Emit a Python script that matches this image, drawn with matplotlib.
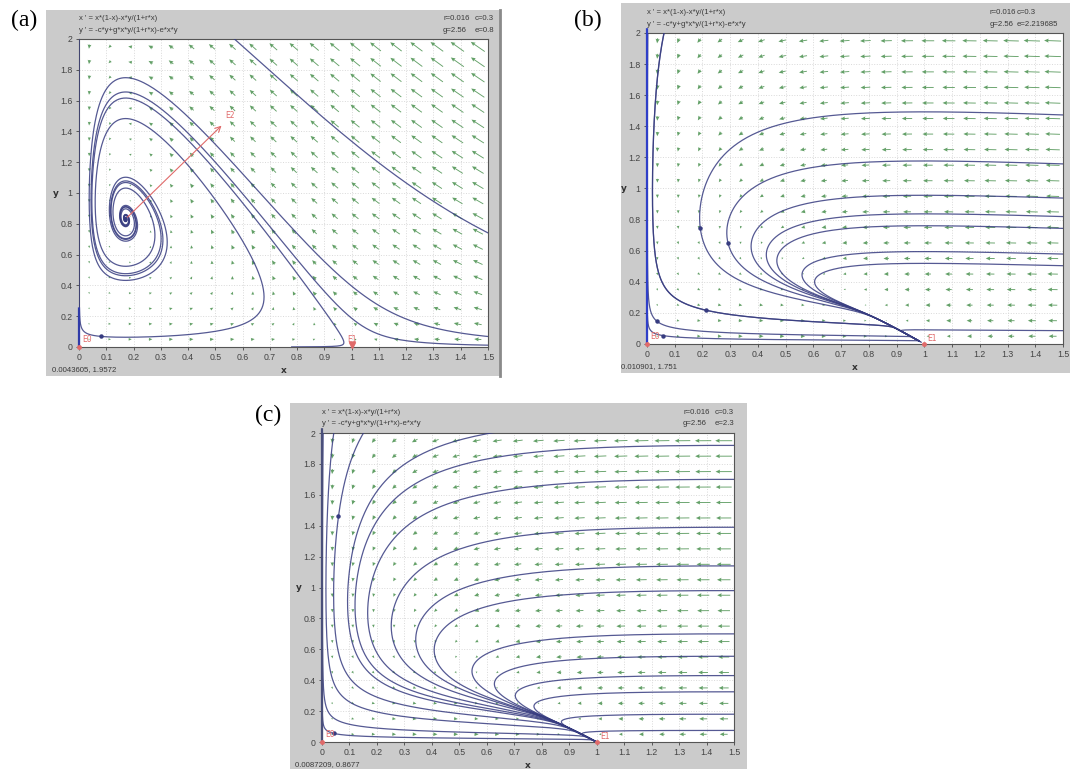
import numpy as np
import matplotlib
matplotlib.use("Agg")
import matplotlib.pyplot as plt

W, H = 1070, 769

# model parameters (shown in each panel header)
r = 0.016
c = 0.3
g = 2.56
e_values = [0.8, 2.219685, 2.3]
e_labels = ["e=0.8", "e=2.219685", "e=2.3"]
panel_tags = ["(a)", "(b)", "(c)"]
cursor_texts = ["0.0043605, 1.9572", "0.010901, 1.751", "0.0087209, 0.8677"]

# start points of the solution curves
# (both: 1 = solved forward and backward, 0 = forward only)
a_x0 = [0.0, 0.079, 1.49, 1.49, 1.49, 0.78]
a_y0 = [0.25, 0.069, 0.75, 0.07, 0.012, 0.0008]
a_both = [0, 1, 1, 1, 1, 0]
b_x0 = [0.0, 0.192, 0.292, 1.49, 1.49, 1.49, 1.49, 1.49, 1.49, 0.06, 0.214, 0.036, 0.058]
b_y0 = [1.0, 0.746, 0.65, 0.939, 0.82, 0.744, 0.579, 0.504, 0.086, 1.99, 0.217, 0.146, 0.054]
b_both = [1] * 13
c_x0 = [0.0, 1.49, 1.49, 1.49, 1.49, 1.49, 1.49, 1.49, 1.49, 1.49, 1.49, 1.49, 0.6, 0.06, 0.042, 0.004, 0.042]
c_y0 = [1.0, 1.92, 1.70, 1.39, 1.14, 0.98, 0.70, 0.555, 0.43, 0.325, 0.18, 0.075, 1.995, 1.46, 1.99, 1.99, 0.056]
c_both = [1] * 17
starts = [(a_x0, a_y0, a_both), (b_x0, b_y0, b_both), (c_x0, c_y0, c_both)]

x_ticks = [0, 0.1, 0.2, 0.3, 0.4, 0.5, 0.6, 0.7, 0.8, 0.9, 1.0, 1.1, 1.2, 1.3, 1.4, 1.5]
x_tick_labels = ["0", "0.1", "0.2", "0.3", "0.4", "0.5", "0.6", "0.7", "0.8", "0.9",
                 "1", "1.1", "1.2", "1.3", "1.4", "1.5"]
y_ticks = [0, 0.2, 0.4, 0.6, 0.8, 1.0, 1.2, 1.4, 1.6, 1.8, 2.0]
y_tick_labels = ["0", "0.2", "0.4", "0.6", "0.8", "1", "1.2", "1.4", "1.6", "1.8", "2"]

# pixel boxes: grey window and plot area (left, top, right, bottom)
gray_boxes = [(46, 10, 500, 376), (621, 3, 1070, 373), (290, 403, 747, 769)]
plot_boxes = [(79, 39, 488, 347), (647, 33, 1063, 344), (322, 433, 734, 742)]
tag_pos = [(24, 20), (588, 20), (268, 415)]
col_pos = [(443, 475), (990, 1017), (683, 715)]
cursor_dx = [6, 0, 5]
axis_line_colors = ["#2f3aa8", "#2f3fc8", "#4a4f7a"]


def field(x, y, e):
    dx = x * (1 - x) - x * y / (1 + r * x)
    dy = -c * y + g * x * y / (1 + r * x) - e * x * y
    return dx, dy


def integrate(x0, y0, e, sign, dt=0.025, nsteps=7000):
    x = np.array(x0, float)
    y = np.array(y0, float)
    xs = np.full((nsteps + 1, len(x)), np.nan)
    ys = np.full((nsteps + 1, len(x)), np.nan)
    xs[0], ys[0] = x, y
    alive = np.ones(len(x), bool)
    h = sign * dt
    for k in range(nsteps):
        k1x, k1y = field(x, y, e)
        k2x, k2y = field(x + h / 2 * k1x, y + h / 2 * k1y, e)
        k3x, k3y = field(x + h / 2 * k2x, y + h / 2 * k2y, e)
        k4x, k4y = field(x + h * k3x, y + h * k3y, e)
        xn = x + h / 6 * (k1x + 2 * k2x + 2 * k3x + k4x)
        yn = y + h / 6 * (k1y + 2 * k2y + 2 * k3y + k4y)
        x = np.where(alive, xn, x)
        y = np.where(alive, yn, y)
        xs[k + 1] = np.where(alive, x, np.nan)
        ys[k + 1] = np.where(alive, y, np.nan)
        inside = (x > -0.02) & (x < 1.52) & (y > -0.02) & (y < 2.02)
        alive &= inside
        if not alive.any():
            break
    return xs, ys


def fbox(l, t, rr, b):
    return [l / W, 1 - b / H, (rr - l) / W, (b - t) / H]


def ftext(px, py, s, **kw):
    fig.text(px / W, 1 - py / H, s, **kw)


fig = plt.figure(figsize=(W / 100, H / 100), dpi=100)
fig.patch.set_facecolor("white")

small = dict(fontsize=5.6, color="#3a3a3a", family="Liberation Sans")
red = "#e06a6a"
curve = "#373c80"

for i in range(3):
    e = e_values[i]
    gl, gt, gr, gb = gray_boxes[i]
    pl, pt, pr, pb = plot_boxes[i]

    bg = fig.add_axes(fbox(*gray_boxes[i]))
    bg.set_facecolor("#cbcbcb")
    bg.set_xticks([])
    bg.set_yticks([])
    for s in bg.spines.values():
        s.set_visible(False)
    if i == 0:
        bg.spines["right"].set_visible(True)
        bg.spines["right"].set_color("#8a8a8a")
        bg.spines["right"].set_linewidth(2)

    ax = fig.add_axes(fbox(*plot_boxes[i]))
    ax.set_facecolor("white")
    ax.set_xlim(0, 1.5)
    ax.set_ylim(0, 2)
    ax.set_xticks(x_ticks)
    ax.set_xticklabels(x_tick_labels, family="Liberation Sans")
    ax.set_yticks(y_ticks)
    ax.set_yticklabels(y_tick_labels, family="Liberation Sans")
    ax.tick_params(labelsize=6.3, colors="#444444", length=2.5, width=0.6, pad=2)
    ax.grid(True, color="#d9d9d9", linestyle=":", linewidth=0.7)
    ax.set_axisbelow(True)
    for s in ax.spines.values():
        s.set_color("#555555")
        s.set_linewidth(0.8)

    # direction field, 20 x 20 arrows, length ~ sqrt of speed on screen
    gx = 0.0375 + 0.075 * np.arange(20)
    gy = 0.05 + 0.1 * np.arange(20)
    X, Y = np.meshgrid(gx, gy)
    U, V = field(X, Y, e)
    sx = (pr - pl) / 1.5
    sy = (pb - pt) / 2.0
    Us, Vs = U * sx, V * sy
    M = np.hypot(Us, Vs)
    L = 17 * np.sqrt(M / M.max())
    Mn = np.where(M > 0, M, 1)
    ax.quiver(X, Y, Us / Mn * L, Vs / Mn * L, angles="uv", scale_units="dots", scale=1,
              pivot="middle", units="dots", width=0.9, headwidth=4.5, headlength=5,
              headaxislength=4.5, color="#63a067", zorder=2)

    # solution curves
    x0, y0, both = starts[i]
    fx, fy = integrate(x0, y0, e, 1)
    bx, by = integrate(x0, y0, e, -1)
    for j in range(len(x0)):
        if both[j]:
            xx = np.concatenate([bx[::-1, j], fx[1:, j]])
            yy = np.concatenate([by[::-1, j], fy[1:, j]])
        else:
            xx, yy = fx[:, j], fy[:, j]
        if x0[j] == 0:
            # solution lying on the y axis
            ax.plot(xx, yy, color=axis_line_colors[i], lw=1.6, clip_on=False, zorder=6)
            continue
        ax.plot(xx, yy, color=curve, alpha=0.85, lw=0.9, zorder=3)
        if 0.02 < x0[j] < 1.45 and 0.02 < y0[j] < 1.95:
            ax.plot(x0[j], y0[j], "o", ms=2.2, color=curve, zorder=4)

    # equilibria
    ax.plot([0], [0], "o", ms=2.5, color=red, clip_on=False, zorder=7)
    ax.text(0.012, 0.035, "E0", color=red, fontsize=5.5, zorder=7)
    if i == 0:
        ax.plot([1], [0.01], "v", ms=4, color=red, clip_on=False, zorder=7)
        ax.text(1.0, 0.035, "E1", color=red, fontsize=5.5, ha="center", zorder=7)
        ax.annotate("", xy=(0.53, 1.45), xytext=(0.17, 0.83),
                    arrowprops=dict(arrowstyle="->", color=red, lw=0.8), zorder=7)
        ax.text(0.535, 1.49, "E2", color=red, fontsize=5.5, zorder=7)
    else:
        ax.plot([1], [0], "o", ms=2.5, color=red, clip_on=False, zorder=7)
        ax.text(1.012, 0.02, "E1", color=red, fontsize=5.5, zorder=7)

    # window texts
    ftext(pl, pt - 21, "x ' = x*(1-x)-x*y/(1+r*x)", va="center", **small)
    ftext(pl, pt - 9, "y ' = -c*y+g*x*y/(1+r*x)-e*x*y", va="center", **small)
    c1, c2 = col_pos[i]
    ftext(c1, pt - 21, "r=0.016", va="center", **small)
    ftext(c2, pt - 21, "c=0.3", va="center", **small)
    ftext(c1, pt - 9, "g=2.56", va="center", **small)
    ftext(c2, pt - 9, e_labels[i], va="center", **small)
    ftext(gl + cursor_dx[i], pb + 23, cursor_texts[i], va="center", **small)
    ftext((pl + pr) / 2, pb + 23, "x", va="center", ha="center", fontsize=6.5,
          fontweight="bold", color="#333333")
    ftext(pl - 23, (pt + pb) / 2, "y", va="center", ha="center", fontsize=6.5,
          fontweight="bold", color="#333333")

    tx, ty = tag_pos[i]
    ftext(tx, ty, panel_tags[i], va="center", ha="center", fontsize=17,
          family="Liberation Serif", color="black")

fig.savefig("out.png", dpi=100)
